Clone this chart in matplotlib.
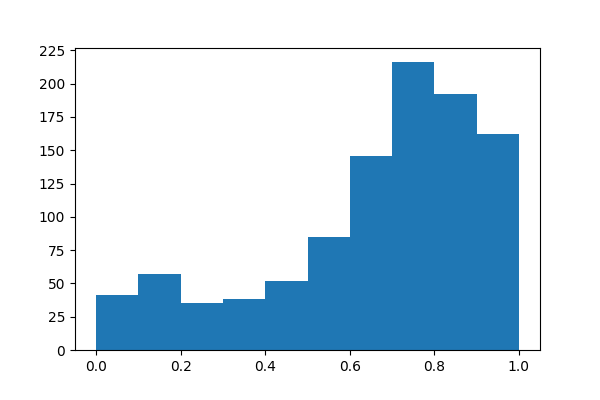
import matplotlib
matplotlib.use("Agg")
import matplotlib.pyplot as plt
import numpy as np

bin_edges = [0.0, 0.1, 0.2, 0.3, 0.4, 0.5, 0.6, 0.7, 0.8, 0.9, 1.0]
counts = [41, 57, 35, 38, 52, 85, 146, 216, 192, 162]

centers = [(a + b) / 2 for a, b in zip(bin_edges[:-1], bin_edges[1:])]

fig, ax = plt.subplots(figsize=(6, 4), dpi=100)
fig.subplots_adjust(left=0.125, right=0.9, bottom=0.125, top=0.88)
ax.hist(centers, bins=bin_edges, weights=counts, color="#1f77b4")
ax.set_yticks(np.arange(0, 226, 25))
fig.savefig("out.png", dpi=100)
